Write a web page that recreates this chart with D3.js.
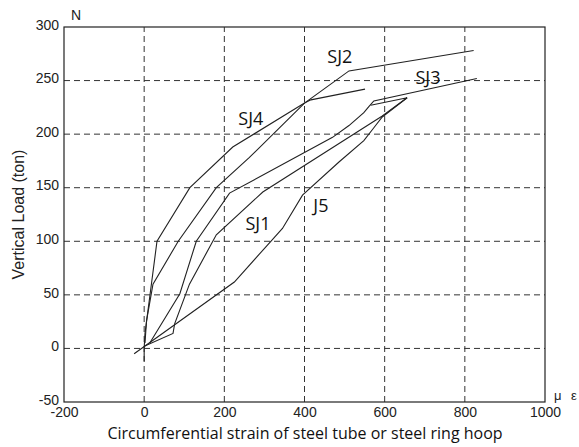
<!DOCTYPE html>
<html>
<head>
<meta charset="utf-8">
<script src="https://cdn.jsdelivr.net/npm/d3@7"></script>
<style>
  body { margin: 0; background: #fff; }
  svg { display: block; }
</style>
</head>
<body>
<div id="chart"></div>
<script>
// strain (με) / load (ton) pairs
const sj4 = [[0, -12], [0, 0], [2, 14], [32, 100], [114, 150], [221, 188], [400, 229], [416, 232], [551, 242]];
const sj2 = [[2, 5], [6, 26], [22, 60], [85, 100], [180, 150], [262, 178], [400, 229], [511, 259], [822, 278]];
const sj3 = [[14, 5], [89, 51], [130, 100], [213, 145], [470, 197], [511, 208], [548, 220], [561, 226], [573, 231], [830, 252]];
const sj1 = [[0, 2], [72, 14], [76, 23], [113, 60], [180, 106], [296, 146], [594, 217], [656, 234], [565, 227]];
const j5 = [[-25, -5], [225, 62], [316, 100], [345, 112], [395, 143], [486, 174], [548, 194], [573, 206], [594, 216], [656, 234]];

const seriesNames = ["SJ4", "SJ2", "SJ3", "SJ1", "J5"];
const seriesData = [sj4, sj2, sj3, sj1, j5];
// label anchor points (data units)
const labelPos = [[266, 209], [488, 266], [708, 247], [284, 111], [441, 127]];

const xTicks = [-200, 0, 200, 400, 600, 800, 1000];
const yTicks = [-50, 0, 50, 100, 150, 200, 250, 300];
const xGrid = [0, 200, 400, 600, 800];
const yGrid = [0, 50, 100, 150, 200, 250];

const width = 579, height = 447;
const margin = { top: 27, right: 34, bottom: 45, left: 64 };

const svg = d3.select("#chart").append("svg")
    .attr("width", width)
    .attr("height", height);

const x = d3.scaleLinear().domain([-200, 1000]).range([margin.left, width - margin.right]);
const y = d3.scaleLinear().domain([-50, 300]).range([height - margin.bottom, margin.top]);

// dashed grid
svg.append("g").selectAll("line")
    .data(xGrid)
    .join("line")
    .attr("x1", d => x(d)).attr("x2", d => x(d))
    .attr("y1", y(-50)).attr("y2", y(300))
    .attr("stroke", "#333").attr("stroke-width", 1)
    .attr("stroke-dasharray", "6,4");

svg.append("g").selectAll("line")
    .data(yGrid)
    .join("line")
    .attr("x1", x(-200)).attr("x2", x(1000))
    .attr("y1", d => y(d)).attr("y2", d => y(d))
    .attr("stroke", "#333").attr("stroke-width", 1)
    .attr("stroke-dasharray", "6,4");

// frame
svg.append("rect")
    .attr("x", x(-200)).attr("y", y(300))
    .attr("width", x(1000) - x(-200))
    .attr("height", y(-50) - y(300))
    .attr("fill", "none")
    .attr("stroke", "#222").attr("stroke-width", 1.2);

// axes (labels only, no tick marks)
const xAxis = svg.append("g")
    .attr("transform", `translate(0,${y(-50)})`)
    .call(d3.axisBottom(x).tickValues(xTicks).tickSize(0).tickPadding(5).tickFormat(d => d));
const yAxis = svg.append("g")
    .attr("transform", `translate(${x(-200)},0)`)
    .call(d3.axisLeft(y).tickValues(yTicks).tickSize(0).tickPadding(5).tickFormat(d => d));

[xAxis, yAxis].forEach(a => {
    a.select(".domain").remove();
    a.selectAll("text")
        .style("font-family", "'Liberation Sans', Arial, sans-serif")
        .style("font-size", "14px")
        .attr("fill", "#222");
});
yAxis.selectAll("text").attr("dy", "0.16em");

// curves
const line = d3.line().x(d => x(d[0])).y(d => y(d[1]));
svg.append("g").selectAll("path")
    .data(seriesData)
    .join("path")
    .attr("d", line)
    .attr("fill", "none")
    .attr("stroke", "#222")
    .attr("stroke-width", 1.1);

// curve labels
svg.append("g").selectAll("text")
    .data(seriesNames)
    .join("text")
    .attr("x", (d, i) => x(labelPos[i][0]))
    .attr("y", (d, i) => y(labelPos[i][1]))
    .attr("text-anchor", "middle")
    .style("font-family", "'Open Sans', sans-serif")
    .style("font-size", "18px")
    .attr("fill", "#111")
    .text(d => d);

// axis unit marks
svg.append("text")
    .attr("x", x(-200) + 7).attr("y", 20)
    .style("font-family", "'Liberation Sans', Arial, sans-serif")
    .style("font-size", "14px")
    .attr("fill", "#222")
    .text("N");

svg.append("text")
    .attr("x", x(1000) + 9).attr("y", y(-50) - 2)
    .style("font-family", "'Liberation Sans', Arial, sans-serif")
    .style("font-size", "13px")
    .attr("fill", "#222")
    .text("μ");
svg.append("text")
    .attr("x", x(1000) + 26).attr("y", y(-50) - 2)
    .style("font-family", "'Liberation Sans', Arial, sans-serif")
    .style("font-size", "13px")
    .attr("fill", "#222")
    .text("ε");

// titles
svg.append("text")
    .attr("x", 305).attr("y", 439)
    .attr("text-anchor", "middle")
    .style("font-family", "'Open Sans', sans-serif")
    .style("font-size", "16px")
    .attr("fill", "#111")
    .text("Circumferential strain of steel tube or steel ring hoop");

svg.append("text")
    .attr("transform", `translate(24,${(y(300) + y(-50)) / 2}) rotate(-90)`)
    .attr("text-anchor", "middle")
    .style("font-family", "'Liberation Sans', Arial, sans-serif")
    .style("font-size", "16px")
    .attr("fill", "#222")
    .text("Vertical Load (ton)");
</script>
</body>
</html>
